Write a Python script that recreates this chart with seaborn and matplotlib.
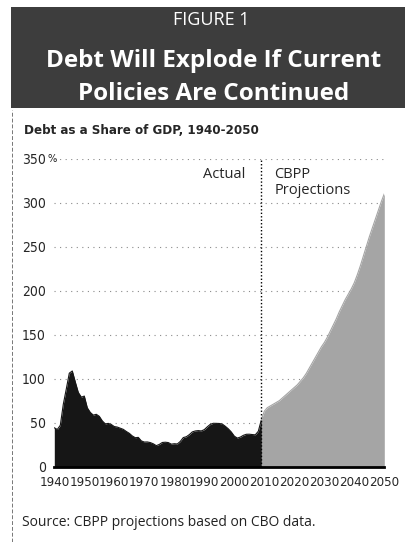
import matplotlib
matplotlib.use("Agg")
import matplotlib.pyplot as plt
import numpy as np
import pandas as pd
import seaborn as sns

# Debt held by the public, % of GDP
actual_years = list(range(1940, 2010))
actual_debt = [44.2, 42.3, 47.0, 70.9, 88.3, 106.2, 108.7, 96.2, 84.3, 79.0,
               80.2, 66.9, 61.6, 58.6, 59.5, 57.2, 52.0, 48.6, 49.2, 47.9,
               45.6, 45.0, 43.7, 42.4, 40.0, 37.9, 34.9, 32.9, 33.3, 29.3,
               28.0, 28.1, 27.4, 26.0, 23.9, 25.3, 27.5, 27.8, 27.4, 25.6,
               26.1, 25.8, 28.7, 33.1, 34.0, 36.4, 39.5, 40.6, 41.0, 40.6,
               42.1, 45.3, 48.1, 49.3, 49.2, 49.1, 48.4, 45.9, 43.0, 39.4,
               34.7, 32.5, 33.6, 35.6, 36.8, 36.9, 36.5, 36.2, 40.2, 53.0]

proj_years = list(range(2009, 2051))
proj_debt = [53, 63, 67, 69, 71, 73, 75, 78, 81, 84,
             87, 90, 93, 97, 101, 106, 112, 118, 124, 130,
             136, 141, 147, 154, 161, 168, 176, 183, 190, 196,
             202, 209, 218, 228, 239, 250, 261, 271, 281, 291,
             301, 310]

y_ticks = [0, 50, 100, 150, 200, 250, 300, 350]
y_labels = ["0", "50", "100", "150", "200", "250", "300", "350"]
x_ticks = list(range(1940, 2051, 10))

df = pd.concat([
    pd.DataFrame({"year": actual_years, "debt": actual_debt, "kind": "Actual"}),
    pd.DataFrame({"year": proj_years, "debt": proj_debt, "kind": "CBPP Projections"}),
])

ACTUAL_COLOR = "#161616"
PROJ_COLOR = "#a5a5a5"

sns.set_theme(style="white")
plt.rcParams["font.family"] = ["Open Sans", "DejaVu Sans"]
COND = dict(family=["DejaVu Sans"], fontstretch="condensed")

fig = plt.figure(figsize=(4.06, 5.42), dpi=100)

# header band
band = fig.add_axes([11 / 406, 1 - 108 / 542, 1 - 11 / 406, 101 / 542])
band.set_facecolor("#3d3d3d")
band.set_xticks([])
band.set_yticks([])
for s in band.spines.values():
    s.set_visible(False)

fig.text(0.52, 1 - 20 / 542, "FIGURE 1", color="white", fontsize=13,
         ha="center", va="center")
fig.text(0.525, 1 - 61 / 542, "Debt Will Explode If Current", color="white",
         fontsize=17.5, fontweight="bold", ha="center", va="center")
fig.text(0.525, 1 - 94 / 542, "Policies Are Continued", color="white",
         fontsize=17.5, fontweight="bold", ha="center", va="center")

# dashed rule on the left
fig.add_artist(plt.Line2D([12.5 / 406, 12.5 / 406], [0, 1 - 110 / 542],
                          transform=fig.transFigure, color="#777777",
                          linewidth=0.7, linestyle=(0, (4, 2))))

fig.text(24 / 406, 1 - 130 / 542, "Debt as a Share of GDP, 1940-2050",
         fontweight="bold", fontsize=9.5, ha="left", va="center", **COND)

ax = fig.add_axes([54.3 / 406, 1 - 466.7 / 542, 330 / 406, 308.2 / 542])
ax.set_xlim(1940, 2050)
ax.set_ylim(0, 350)

for yv in y_ticks[1:]:
    ax.axhline(yv, color="#8a8a8a", linewidth=0.8, linestyle=(0, (1, 4)), zorder=0)

act = df[df["kind"] == "Actual"]
proj = df[df["kind"] == "CBPP Projections"]
ax.fill_between(proj["year"], 0, proj["debt"], color=PROJ_COLOR, linewidth=0, zorder=1)
ax.fill_between(act["year"], 0, act["debt"], color=ACTUAL_COLOR, linewidth=0, zorder=2)
sns.lineplot(data=df, x="year", y="debt", hue="kind",
             palette={"Actual": ACTUAL_COLOR, "CBPP Projections": PROJ_COLOR},
             linewidth=0.8, legend=False, ax=ax, zorder=3)

ax.axvline(2009, color="black", linewidth=1.0, linestyle=(0, (1, 1.5)), zorder=4)

ax.text(2003.6, 340, "Actual", fontsize=10.5, ha="right", va="top")
ax.text(2013.4, 340, "CBPP\nProjections", fontsize=10.5, ha="left", va="top",
        linespacing=1.1)

for s in ["top", "right", "left"]:
    ax.spines[s].set_visible(False)
ax.spines["bottom"].set_color("black")
ax.spines["bottom"].set_linewidth(2)

ax.set_xticks(x_ticks)
ax.set_xticklabels([str(x) for x in x_ticks], fontsize=9.5, **COND)
ax.set_yticks(y_ticks)
ax.set_yticklabels(y_labels, fontsize=10, **COND)
ax.tick_params(axis="x", direction="inout", length=7, width=1, color="black", pad=3)
ax.tick_params(axis="y", length=0, pad=6)
ax.set_xlabel("")
ax.set_ylabel("")
ax.patch.set_alpha(0)

# percent sign beside the top y label
fig.text(48 / 406, 1 - 159 / 542, "%", fontsize=8, ha="left", va="center", **COND)

fig.text(22 / 406, 1 - 523 / 542, "Source: CBPP projections based on CBO data.",
         fontsize=10, color="#222222", ha="left", va="center")

fig.savefig("out.png", dpi=100)
